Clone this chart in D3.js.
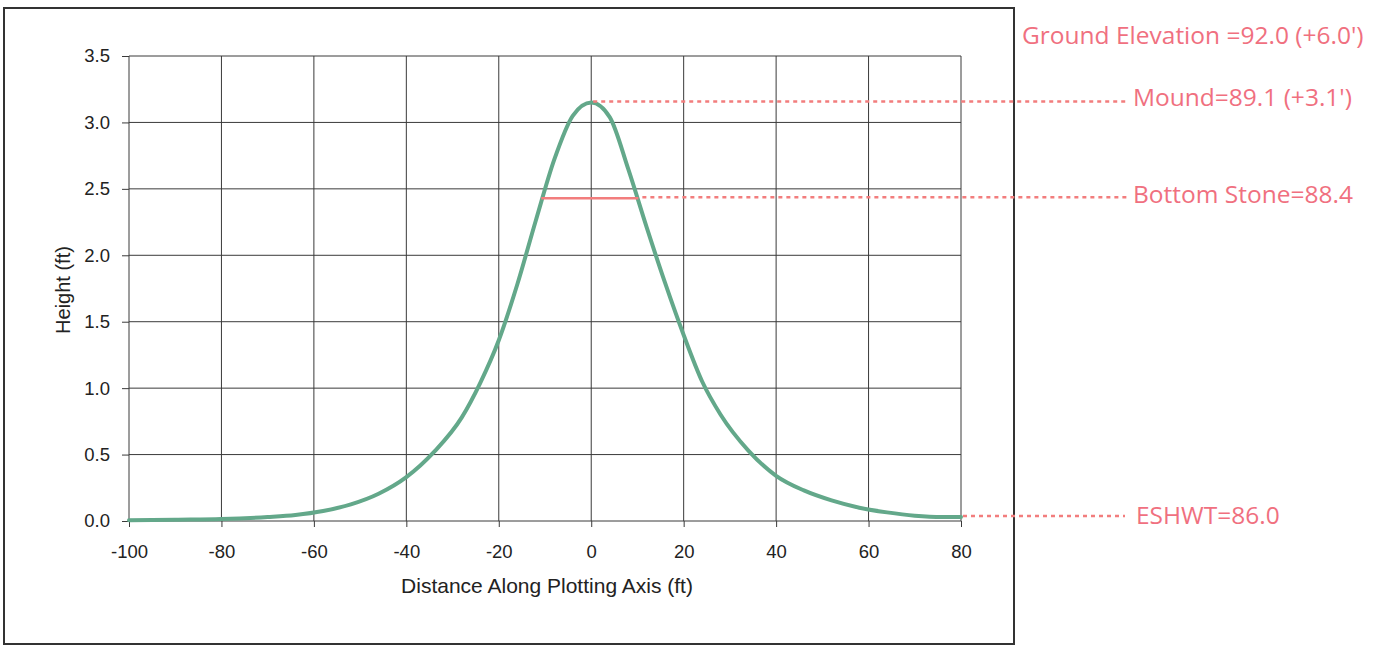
<!DOCTYPE html>
<html>
<head>
<meta charset="utf-8">
<script src="https://cdn.jsdelivr.net/npm/d3@7"></script>
<style>
  body { margin: 0; background: #fff; }
  svg { display: block; }
</style>
</head>
<body>
<svg width="1377" height="647"></svg>
<script>
// mound profile (ft along axis, ft above ESHWT)
var distance = [-100, -90, -80, -70, -64, -58, -52, -46, -40, -34, -28, -24, -20, -16, -12, -8, -4, 0,
                4, 8, 12, 16, 20, 24, 28, 34, 40, 46, 52, 58, 64, 70, 76, 80];
var height = [0.005, 0.01, 0.015, 0.03, 0.045, 0.075, 0.125, 0.205, 0.33, 0.52, 0.78, 1.04, 1.36, 1.78, 2.26, 2.72, 3.05, 3.15,
              3.04, 2.65, 2.21, 1.79, 1.40, 1.05, 0.80, 0.53, 0.34, 0.23, 0.155, 0.10, 0.065, 0.04, 0.03, 0.03];

var xTicks = [-100, -80, -60, -40, -20, 0, 20, 40, 60, 80];
var yTicks = [0, 0.5, 1.0, 1.5, 2.0, 2.5, 3.0, 3.5];

// annotation levels (height in ft) and their labels
var moundLevel = 3.15;
var stoneLevel = 2.43;
var stoneLeft = -10.8, stoneRight = 10.2;
var eshwtLevel = 0.03;
var labels = ["Ground Elevation =92.0 (+6.0')", "Mound=89.1 (+3.1')", "Bottom Stone=88.4", "ESHWT=86.0"];

var svg = d3.select("svg");
var x = d3.scaleLinear().domain([-100, 80]).range([129, 961]);
var y = d3.scaleLinear().domain([0, 3.5]).range([521, 56]);
var axisFont = "Liberation Sans, Arial, sans-serif";

// outer frame
svg.append("rect")
    .attr("x", 4).attr("y", 8).attr("width", 1010).attr("height", 636)
    .style("fill", "none").style("stroke", "#333").style("stroke-width", "2px");

// grid
svg.append("g").selectAll("line").data(xTicks).enter().append("line")
    .attr("x1", function (d) { return x(d); }).attr("x2", function (d) { return x(d); })
    .attr("y1", y(3.5)).attr("y2", y(0))
    .style("stroke", "#3a3a3a").style("stroke-width", "1px");
svg.append("g").selectAll("line").data(yTicks).enter().append("line")
    .attr("x1", x(-100)).attr("x2", x(80))
    .attr("y1", function (d) { return y(d); }).attr("y2", function (d) { return y(d); })
    .style("stroke", "#3a3a3a").style("stroke-width", "1px");

// axes
var xAxis = svg.append("g").attr("transform", "translate(0," + y(0) + ")")
    .call(d3.axisBottom(x).tickValues(xTicks).tickSize(6).tickPadding(18).tickFormat(function (d) { return String(d); }));
var yAxis = svg.append("g").attr("transform", "translate(" + x(-100) + ",0)")
    .call(d3.axisLeft(y).tickValues(yTicks).tickSize(7).tickPadding(12).tickFormat(d3.format(".1f")));
[xAxis, yAxis].forEach(function (a) {
    a.select(".domain").remove();
    a.selectAll("line").style("stroke", "#3a3a3a");
    a.selectAll("text").style("font-family", axisFont)
        .style("font-size", "18.5px").style("fill", "#222");
});

svg.append("text")
    .attr("x", 547).attr("y", 593).attr("text-anchor", "middle")
    .style("font-family", axisFont).style("font-size", "21px").style("fill", "#222")
    .text("Distance Along Plotting Axis (ft)");
svg.append("text")
    .attr("transform", "translate(70,290) rotate(-90)").attr("text-anchor", "middle")
    .style("font-family", axisFont).style("font-size", "20px").style("fill", "#222")
    .text("Height (ft)");

// mound curve
var pts = distance.map(function (d, i) { return [d, height[i]]; });
svg.append("path")
    .datum(pts)
    .attr("d", d3.line().x(function (d) { return x(d[0]); }).y(function (d) { return y(d[1]); }).curve(d3.curveMonotoneX))
    .style("fill", "none").style("stroke", "#63a88a").style("stroke-width", "4px")
    .style("stroke-linejoin", "round").style("stroke-linecap", "round");

// annotations
var red = "#f27d7d";
var txt = "#f0707f";
function dotted(x1, x2, yy) {
    svg.append("line")
        .attr("x1", x1).attr("x2", x2).attr("y1", yy).attr("y2", yy)
        .style("stroke", red).style("stroke-width", "2.5px").style("stroke-dasharray", "4,4");
}
dotted(x(0) + 2, 1128, y(moundLevel) - 1);
svg.append("line")
    .attr("x1", x(stoneLeft)).attr("x2", x(stoneRight)).attr("y1", y(stoneLevel)).attr("y2", y(stoneLevel))
    .style("stroke", red).style("stroke-width", "2.5px");
dotted(x(stoneRight) + 4, 1128, y(stoneLevel) - 1);
dotted(x(80) + 2, 1125, y(eshwtLevel) - 1);

var labelPos = [[1022, 44], [1133, 106], [1133, 203], [1136, 524]];
svg.append("g").selectAll("text").data(labels).enter().append("text")
    .attr("x", function (d, i) { return labelPos[i][0]; })
    .attr("y", function (d, i) { return labelPos[i][1]; })
    .style("font-family", "Open Sans, sans-serif").style("font-size", "24.5px").style("fill", txt)
    .text(function (d) { return d; });
</script>
</body>
</html>
